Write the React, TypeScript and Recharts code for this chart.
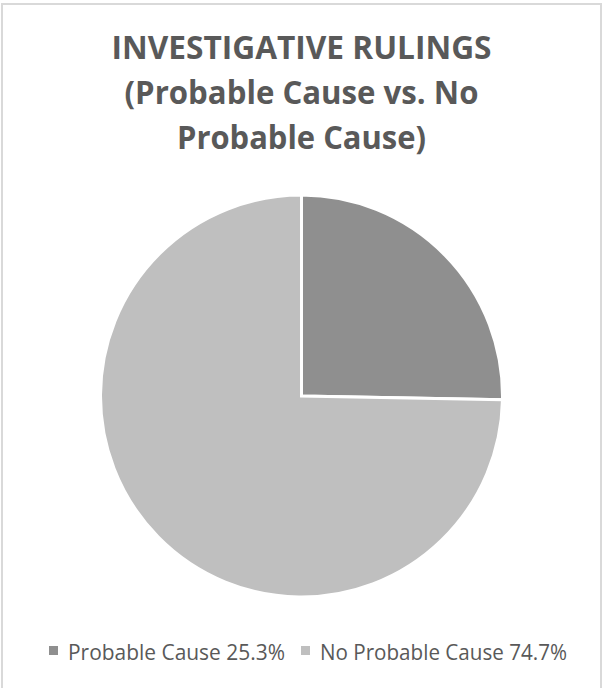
import React from 'react';
import { PieChart, Pie, Cell, Legend } from 'recharts';

const categories = ['Probable Cause', 'No Probable Cause'];
const values = [25.3, 74.7];
const colors = ['#8f8f8f', '#bfbfbf'];
const titleLines = ['INVESTIGATIVE RULINGS', '(Probable Cause vs. No', 'Probable Cause)'];

const data = categories.map((name, i) => ({ name, value: values[i] }));

// legend drawn as svg so the text widths can match the reference
const legendX = [48, 300];
const legendWidths = [217, 247];

const renderLegend = (props: any) => {
  const payload = [...(props.payload || [])].sort(
    (a: any, b: any) => categories.indexOf(a.value) - categories.indexOf(b.value)
  );
  return (
    <svg width={603} height={40} style={{ display: 'block' }}>
      {payload.map((entry: any, i: number) => (
        <g key={`legend-${i}`}>
          <rect x={legendX[i] + 1} y={11} width={9} height={9} fill={entry.color} />
          <text
            x={legendX[i] + 20}
            y={25}
            fontFamily="Open Sans, sans-serif"
            fontSize={21}
            fill="#595959"
            textLength={legendWidths[i]}
            lengthAdjust="spacingAndGlyphs"
          >
            {entry.value} {values[categories.indexOf(entry.value)]}%
          </text>
        </g>
      ))}
    </svg>
  );
};

export default function App() {
  return (
    <div style={{ position: 'absolute', left: 0, top: 0, width: 603, height: 688, background: '#fff', overflow: 'hidden' }}>
      <div style={{ position: 'absolute', left: 1, top: 3, width: 601, height: 695, border: '2px solid #d9d9d9', boxSizing: 'border-box' }} />
      <svg style={{ position: 'absolute', left: 0, top: 0 }} width={603} height={170}>
        {titleLines.map((t, i) => (
          <text
            key={t}
            x={301.5}
            y={58.5 + i * 45}
            textAnchor="middle"
            fontFamily="Open Sans, sans-serif"
            fontWeight="bold"
            fontSize={32.5}
            fill="#595959"
            textLength={[380, 354, 249][i]}
            lengthAdjust="spacingAndGlyphs"
          >
            {t}
          </text>
        ))}
      </svg>
      <div style={{ position: 'absolute', left: 0, top: 0 }}>
        <PieChart width={603} height={688} margin={{ top: 0, right: 0, bottom: 0, left: 0 }}>
          <Pie
            data={data}
            dataKey="value"
            nameKey="name"
            cx={301.5}
            cy={396}
            outerRadius={201}
            startAngle={90}
            endAngle={-270}
            stroke="#ffffff"
            strokeWidth={3}
            isAnimationActive={false}
          >
            {data.map((entry, index) => (
              <Cell key={`cell-${index}`} fill={colors[index]} />
            ))}
          </Pie>
          <Legend content={renderLegend} wrapperStyle={{ top: 635, left: 0, width: 603 }} />
        </PieChart>
      </div>
    </div>
  );
}
